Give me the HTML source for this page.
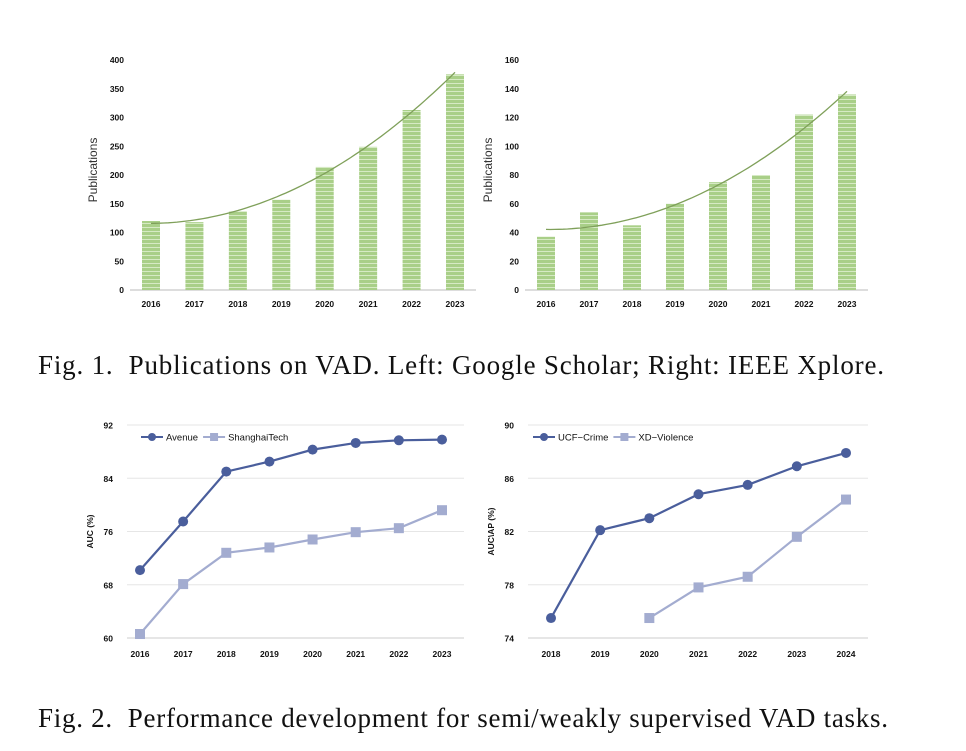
<!DOCTYPE html>
<html><head><meta charset="utf-8"><style>
body{margin:0;background:#fff;}
svg{display:block;font-family:"Liberation Sans",sans-serif;}
.cap{font-family:"Liberation Serif",serif;font-size:27px;fill:#111;}
.tk{font-size:8.5px;font-weight:bold;fill:#111;}
</style></head><body>
<svg id="s" width="966" height="751">
<defs>
<pattern id="stripe" width="4" height="4" patternUnits="userSpaceOnUse">
<rect width="4" height="4" fill="#a9cf88"/><rect y="3" width="4" height="1" fill="#d6eac4"/>
</pattern>
</defs>
<text class="cap" x="38" y="374" textLength="846" lengthAdjust="spacing">Fig. 1.&#160; Publications on VAD. Left: Google Scholar; Right: IEEE Xplore.</text>
<text class="cap" x="38" y="727" textLength="850" lengthAdjust="spacing">Fig. 2.&#160; Performance development for semi/weakly supervised VAD tasks.</text>
</svg>
<script>
const years1 = ["2016","2017","2018","2019","2020","2021","2022","2023"];
const scholarPubs = [120,118,137,157,214,249,313,375];
const ieeePubs = [37,54,45,60,75,80,122,136];
const scholarTicks = [0,50,100,150,200,250,300,350,400];
const ieeeTicks = [0,20,40,60,80,100,120,140,160];
const avenue = [70.2,77.5,85.0,86.5,88.3,89.3,89.7,89.8];
const shanghai = [60.6,68.1,72.8,73.6,74.8,75.9,76.5,79.2];
const semiTicks = [60,68,76,84,92];
const years2 = ["2018","2019","2020","2021","2022","2023","2024"];
const ucf = [75.5,82.1,83.0,84.8,85.5,86.9,87.9];
const xd = [null,null,75.5,77.8,78.6,81.6,84.4];
const weakTicks = [74,78,82,86,90];

const S=document.getElementById('s');const NS='http://www.w3.org/2000/svg';
function el(t,a,p){const e=document.createElementNS(NS,t);for(const k in a)e.setAttribute(k,a[k]);(p||S).appendChild(e);return e;}
function txt(x,y,s,cls,anchor,p){const e=el('text',{x:x,y:y,class:cls,'text-anchor':anchor||'middle'},p);e.textContent=s;return e;}

function barChart(name,cats,vals,ticks,x0,x1,yTop,yBot,axL,axR){
  const g=el('g',{});
  
  
  const mx=ticks[ticks.length-1];
  const sx=i=>x0+(x1-x0)*i/(cats.length-1);
  const sy=v=>yBot-(yBot-yTop)*v/mx;
  ticks.forEach(t=>{const l=txt(axL-6,sy(t)+3,String(t),'tk','end',g);});
  const ax=el('line',{x1:axL,x2:axR,y1:yBot,y2:yBot,stroke:'#bbb','stroke-width':1},g);
  
  cats.forEach((c,i)=>{
    const b=el('rect',{x:sx(i)-9,y:sy(vals[i]),width:18,height:yBot-sy(vals[i]),fill:'url(#stripe)'},g);
    
    const l=txt(sx(i),yBot+17,c,'tk','middle',g);
  });
  const n=vals.length;let S0=0,S1=0,S2=0,S3=0,S4=0,T0=0,T1=0,T2=0;
  for(let i=0;i<n;i++){const x=i,y=vals[i];S0++;S1+=x;S2+=x*x;S3+=x*x*x;S4+=x*x*x*x;T0+=y;T1+=x*y;T2+=x*x*y;}
  const M=[[S0,S1,S2,T0],[S1,S2,S3,T1],[S2,S3,S4,T2]];
  for(let i=0;i<3;i++){for(let j=i+1;j<3;j++){const f=M[j][i]/M[i][i];for(let k=i;k<4;k++)M[j][k]-=f*M[i][k];}}
  const c=[0,0,0];for(let i=2;i>=0;i--){let s=M[i][3];for(let k=i+1;k<3;k++)s-=M[i][k]*c[k];c[i]=s/M[i][i];}
  let d='';for(let t=0;t<=70;t++){const x=t/10;const y=c[0]+c[1]*x+c[2]*x*x;d+=(t?'L':'M')+sx(x).toFixed(1)+','+sy(y).toFixed(1);}
  const tl=el('path',{d:d,fill:'none',stroke:'#7fa05a','stroke-width':1.3},g);
  
  const yl=txt(0,0,'Publications','', 'middle',g);
  yl.setAttribute('transform','translate('+(axL-33)+','+((yTop+yBot)/2-5)+') rotate(-90)');
  yl.setAttribute('style','font-size:12px;fill:#333');
  
}
barChart('chart-google-scholar',years1,scholarPubs,scholarTicks,151,455,60,290,130,476);
barChart('chart-ieee-xplore',years1,ieeePubs,ieeeTicks,546,847,60,290,525,868);

function lineChart(name,cats,series,ticks,x0,x1,yTop,yBot,gL,gR,ytitle,labels,legX){
  const g=el('g',{});
  
  
  const mn=ticks[0],mx=ticks[ticks.length-1];
  const sx=i=>x0+(x1-x0)*i/(cats.length-1);
  const sy=v=>yBot-(yBot-yTop)*(v-mn)/(mx-mn);
  ticks.forEach(t=>{
    const gl=el('line',{x1:gL,x2:gR,y1:sy(t),y2:sy(t),stroke:t===mn?'#ccc':'#e6e6e6','stroke-width':1},g);
    
    const l=txt(gL-14,sy(t)+3.5,String(t),'tk','end',g);
  });
  cats.forEach((c,i)=>{const l=txt(sx(i),yBot+19,c,'tk','middle',g);});
  const cols=['#4a5e9c','#a3acd0'];
  series.forEach((vals,si)=>{
    let d='';let st=true;
    vals.forEach((v,i)=>{if(v==null)return;d+=(st?'M':'L')+sx(i)+','+sy(v);st=false;});
    const p=el('path',{d:d,fill:'none',stroke:cols[si],'stroke-width':2.2},g);
    
    vals.forEach((v,i)=>{if(v==null)return;
      const m=si===0?el('circle',{cx:sx(i),cy:sy(v),r:5,fill:cols[si]},g):el('rect',{x:sx(i)-5,y:sy(v)-5,width:10,height:10,fill:cols[si]},g);
      
    });
  });
  let lx=legX;const ly=yTop+12;
  labels.forEach((lb,si)=>{
    const lg=el('g',{},g);
    el('line',{x1:lx,x2:lx+22,y1:ly,y2:ly,stroke:cols[si],'stroke-width':2},lg);
    if(si===0)el('circle',{cx:lx+11,cy:ly,r:4,fill:cols[si]},lg);else el('rect',{x:lx+7,y:ly-4,width:8,height:8,fill:cols[si]},lg);
    const t=txt(lx+25,ly+3.5,lb,'','start',lg);t.setAttribute('style','font-size:9.5px;fill:#111');
    lx+=25+t.getComputedTextLength()+5;
  });
  const yl=txt(0,0,ytitle,'tk','middle',g);
  yl.setAttribute('transform','translate('+(gL-34)+','+((yTop+yBot)/2)+') rotate(-90)');
  
}
lineChart('chart-semi-supervised',years1,[avenue,shanghai],semiTicks,140,442,425,638,127,464,'AUC (%)',['Avenue','ShanghaiTech'],141);
lineChart('chart-weakly-supervised',years2,[ucf,xd],weakTicks,551,846,425,638,528,868,'AUC\\AP (%)',['UCF\u2212Crime','XD\u2212Violence'],533);
</script>
</body></html>
